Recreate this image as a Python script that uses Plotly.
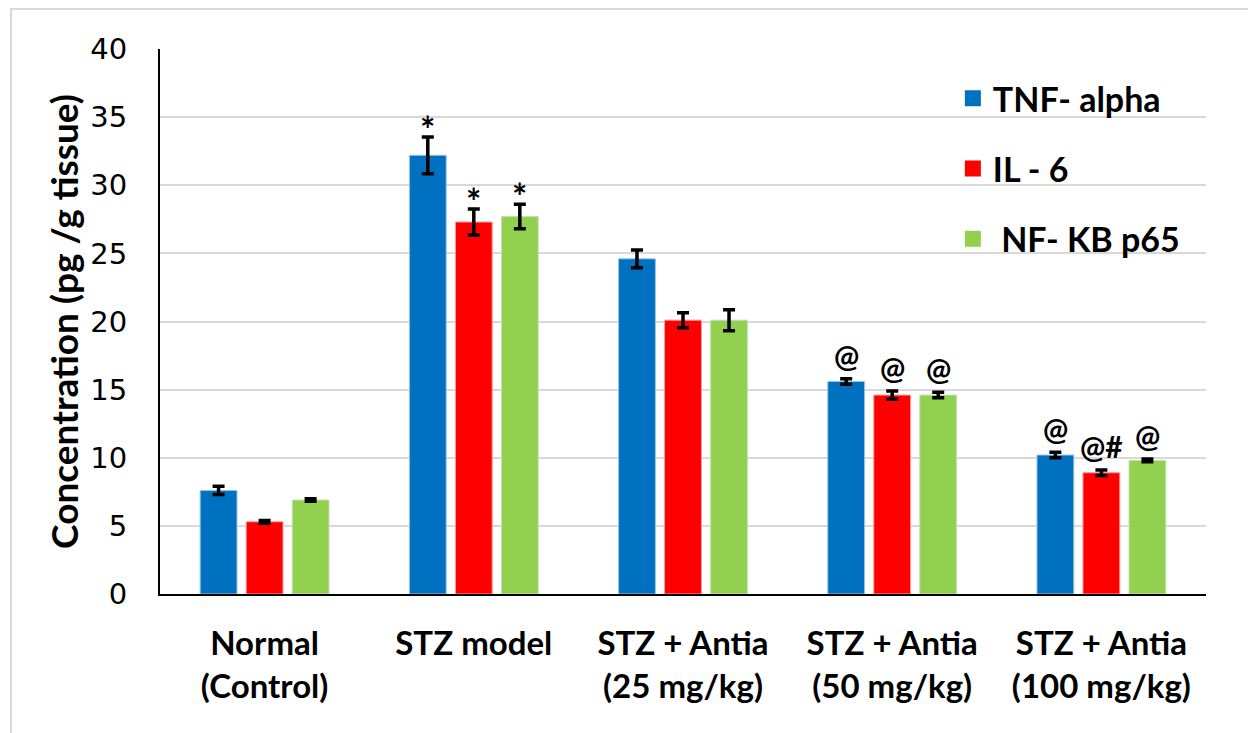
import plotly.graph_objects as go

# Groups and measured concentrations (pg/g tissue), mean and error
groups = ["Normal<br>(Control)", "STZ model", "STZ + Antia<br>(25 mg/kg)",
          "STZ + Antia<br>(50 mg/kg)", "STZ + Antia<br>(100 mg/kg)"]

tnf_alpha = [7.6, 32.2, 24.6, 15.6, 10.2]
tnf_alpha_err = [0.3, 1.35, 0.65, 0.2, 0.2]

il6 = [5.3, 27.3, 20.1, 14.6, 8.9]
il6_err = [0.1, 0.95, 0.55, 0.3, 0.2]

nfkb_p65 = [6.9, 27.7, 20.1, 14.6, 9.8]
nfkb_p65_err = [0.1, 0.9, 0.77, 0.2, 0.1]

# Significance marks above each bar
tnf_alpha_sig = ["", "*", "", "@", "@"]
il6_sig = ["", "*", "", "@", "@#"]
nfkb_p65_sig = ["", "*", "", "@", "@"]

series_names = ["TNF- alpha", "IL - 6", " NF- KB p65"]
colors = ["#0070C0", "#FF0000", "#92D050"]
edge_colors = ["#9DC3E6", "#FF9999", "#C5E0B4"]

series = [
    (tnf_alpha, tnf_alpha_err, tnf_alpha_sig),
    (il6, il6_err, il6_sig),
    (nfkb_p65, nfkb_p65_err, nfkb_p65_sig),
]

BOLD = "Lato"
fig = go.Figure()

for k, (vals, errs, _) in enumerate(series):
    fig.add_trace(go.Bar(
        x=groups, y=vals, name=series_names[k], showlegend=False,
        marker=dict(color=colors[k], line=dict(color=edge_colors[k], width=1)),
        error_y=dict(type="data", array=errs, visible=True,
                     color="black", thickness=3.5, width=6),
    ))

# Legend entries with larger square keys
for k in range(3):
    fig.add_trace(go.Scatter(
        x=[None], y=[None], mode="markers", name=series_names[k],
        legendgroup=f"g{k}",
        marker=dict(symbol="square", size=16, color=colors[k]),
    ))

bargap = 0.34
slot = (1 - bargap) / 3
annotations = []
for k, (vals, errs, sigs) in enumerate(series):
    for i, s in enumerate(sigs):
        if not s:
            continue
        star = s == "*"
        annotations.append(dict(
            x=i + (k - 1) * slot, y=vals[i] + errs[i], xref="x", yref="y",
            text=s, showarrow=False, yanchor="bottom",
            # the asterisk glyph sits high in its line box
            yshift=-16 if star else 4,
            font=dict(family=BOLD, size=36 if star else 30, color="black",
                      weight="bold"),
        ))

fig.update_layout(
    width=1248, height=733,
    margin=dict(l=160, r=42, t=49, b=139),
    paper_bgcolor="white", plot_bgcolor="white",
    barmode="group", bargap=bargap, bargroupgap=0.2,
    annotations=annotations,
    legend=dict(
        x=0.758, y=0.962, xanchor="left", yanchor="top",
        bgcolor="rgba(0,0,0,0)", tracegroupgap=23,
        font=dict(family=BOLD, size=34, color="black", weight="bold"),
    ),
    shapes=[dict(type="rect", xref="paper", yref="paper",
                 x0=-0.1424, x1=1.2, y0=-0.5, y1=1.0734,
                 line=dict(color="#D9D9D9", width=2), layer="below")],
)

fig.update_yaxes(
    range=[0, 40], dtick=5, showgrid=True, gridcolor="#D9D9D9", gridwidth=2,
    zeroline=False, showline=True, linecolor="black", linewidth=2,
    tickfont=dict(family="DejaVu Sans", size=29, color="black"),
    ticklabelstandoff=25,
    title=dict(text="Concentration (pg /g tissue)" + "\u00a0" * 4, standoff=0,
               font=dict(family=BOLD, size=37, color="black", weight="bold")),
)
fig.update_xaxes(
    showline=True, linecolor="black", linewidth=2,
    tickfont=dict(family=BOLD, size=33, color="black", weight="bold"),
    ticklabelstandoff=19,
)

fig.write_html("out.html")
